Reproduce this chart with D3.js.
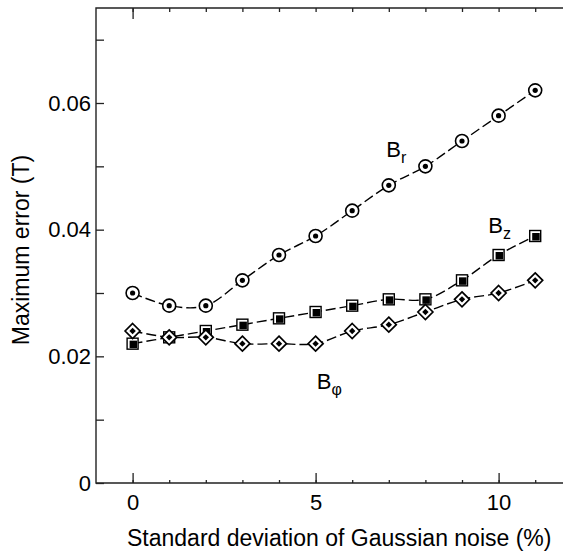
<!doctype html>
<html>
<head>
<meta charset='utf-8'>
<style>
body { margin:0; background:#fff; }
text { font-family: Arial, 'Liberation Sans', sans-serif; fill:#000; }
</style>
</head>
<body>
<div id='chart'></div>
<script src='https://cdn.jsdelivr.net/npm/d3@7/dist/d3.min.js'></script>
<script>

const W = 563, H = 556;
const noise = [0,1,2,3,4,5,6,7,8,9,10,11];
const Br   = [0.030,0.028,0.028,0.032,0.036,0.039,0.043,0.047,0.050,0.054,0.058,0.062];
const Bz   = [0.022,0.023,0.024,0.025,0.026,0.027,0.028,0.029,0.029,0.032,0.036,0.039];
const Bphi = [0.024,0.023,0.023,0.022,0.022,0.022,0.024,0.025,0.027,0.029,0.030,0.032];
const xMajor = [0,5,10];
const xMinor = [0,1,2,3,4,5,6,7,8,9,10,11];
const yMajor = [0,0.02,0.04,0.06];
const yMinor = [0.01,0.03,0.05,0.07];
// label anchor [x, y, main, sub]
const labels = [
  [6.93, 0.0515, 'B', 'r'],
  [9.72, 0.0395, 'B', 'z'],
  [5.03, 0.0149, 'B', '\u03c6']
];

const x = d3.scaleLinear().domain([-1,12]).range([96, 96 + 13*36.6]);
const y = d3.scaleLinear().domain([0,0.075]).range([483, 8]);

const svg = d3.select('#chart').append('svg')
  .attr('width', W).attr('height', H);

const fs = 22;

// axes
const axisCol = '#222';
function styleAxis(g){
  g.select('.domain').remove();
  g.selectAll('line').attr('stroke', axisCol).attr('stroke-width', 1.3);
  g.selectAll('text').style('font-size', fs+'px').attr('fill','#000');
}

svg.append('g').attr('transform','translate(0,483)')
  .call(d3.axisBottom(x).tickValues(xMinor).tickSize(-3).tickFormat(''))
  .call(styleAxis);
svg.append('g').attr('transform','translate(0,483)')
  .call(d3.axisBottom(x).tickValues(xMajor).tickSize(-10).tickPadding(11).tickFormat(d3.format('d')))
  .call(styleAxis);
svg.append('g').attr('transform','translate(0,8)')
  .call(d3.axisTop(x).tickValues(xMinor).tickSize(-4).tickFormat(''))
  .call(styleAxis);
svg.append('g').attr('transform','translate(0,8)')
  .call(d3.axisTop(x).tickValues([0]).tickSize(-11).tickFormat(''))
  .call(styleAxis);
svg.append('g').attr('transform','translate(96,0)')
  .call(d3.axisLeft(y).tickValues(yMinor).tickSize(-8).tickFormat(''))
  .call(styleAxis);
svg.append('g').attr('transform','translate(96,0)')
  .call(d3.axisLeft(y).tickValues(yMajor).tickSize(-8).tickPadding(5)
    .tickFormat(d => d === 0 ? '0' : d3.format('.2f')(d)))
  .call(styleAxis);

// frame lines
svg.append('path')
  .attr('d', `M${W},${y(0)}H${x(-1)}V${y(0.075)}H${W}`)
  .attr('fill','none').attr('stroke',axisCol).attr('stroke-width',1.4);

// axis titles
svg.append('text')
  .attr('x', 127).attr('y', 546)
  .style('font-size', (fs+1)+'px')
  .text('Standard deviation of Gaussian noise (%)');
svg.append('text')
  .attr('transform', 'translate(29,250) rotate(-90)')
  .attr('text-anchor','middle')
  .style('font-size', (fs+1)+'px')
  .text('Maximum error (T)');

// lines
const line = d3.line()
  .x((d,i) => x(noise[i]))
  .y(d => y(d))
  .curve(d3.curveCatmullRom.alpha(0.5));

[Br, Bz, Bphi].forEach(s => {
  svg.append('path')
    .attr('d', line(s))
    .attr('fill','none')
    .attr('stroke','#000')
    .attr('stroke-width',1.4)
    .attr('stroke-dasharray','10,4');
});

// markers
const circ = svg.append('g').selectAll('g').data(Br).join('g')
  .attr('transform',(d,i) => `translate(${x(noise[i])},${y(d)})`);
circ.append('circle').attr('r',6.5).attr('fill','#fff').attr('stroke','#000').attr('stroke-width',1.6);
circ.append('circle').attr('r',2.6).attr('fill','#000');

const sq = svg.append('g').selectAll('g').data(Bz).join('g')
  .attr('transform',(d,i) => `translate(${x(noise[i])},${y(d)})`);
sq.append('rect').attr('x',-5.5).attr('y',-5.5).attr('width',11).attr('height',11)
  .attr('fill','#fff').attr('stroke','#000').attr('stroke-width',1.4);
sq.append('rect').attr('x',-3).attr('y',-3).attr('width',7.5).attr('height',7.5).attr('fill','#000');

const dia = svg.append('g').selectAll('g').data(Bphi).join('g')
  .attr('transform',(d,i) => `translate(${x(noise[i])},${y(d)})`);
dia.append('path').attr('d','M0,-7.5L7.5,0L0,7.5L-7.5,0Z')
  .attr('fill','#fff').attr('stroke','#000').attr('stroke-width',1.7);
dia.append('path').attr('d','M0,-3.2L3.2,0L0,3.2L-3.2,0Z').attr('fill','#000');

// curve labels
labels.forEach(l => {
  const t = svg.append('text')
    .attr('x', x(l[0])).attr('y', y(l[1]))
    .style('font-size', fs+'px');
  t.append('tspan').text(l[2]);
  t.append('tspan').attr('dy', 6).style('font-size','16px').text(l[3]);
});

</script>
</body>
</html>
